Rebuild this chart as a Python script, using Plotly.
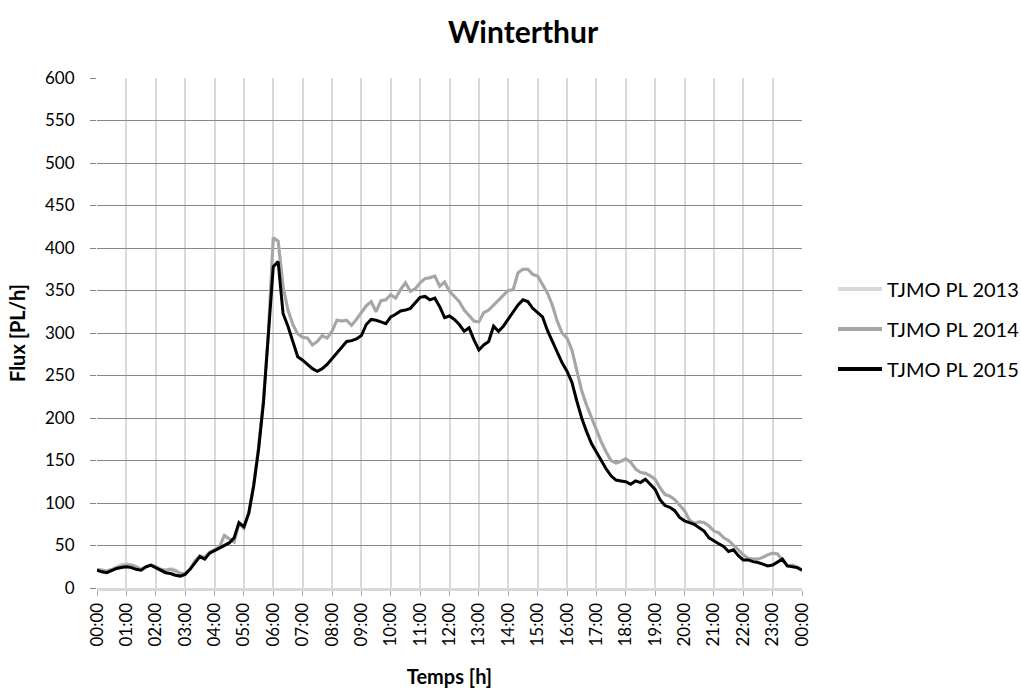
import plotly.graph_objects as go

# Time of day in hours, one sample every 10 minutes from 00:00 to 24:00
hours = [i / 6 for i in range(24 * 6 + 1)]
time_labels = [f"{(i // 6) % 24:02d}:{(i % 6) * 10:02d}" for i in range(24 * 6 + 1)]

# Hourly tick labels along the x axis
tick_labels = [
    "00:00", "01:00", "02:00", "03:00", "04:00", "05:00", "06:00", "07:00",
    "08:00", "09:00", "10:00", "11:00", "12:00", "13:00", "14:00", "15:00",
    "16:00", "17:00", "18:00", "19:00", "20:00", "21:00", "22:00", "23:00",
    "00:00",
]

# TJMO PL 2013 (one row per hour, six 10-minute values each)
tjmo_2013 = [
    22, 21, 20, 22, 25, 28,
    29, 27, 25, 22, 25, 27,
    25, 22, 21, 23, 22, 18,
    17, 22, 32, 38, 36, 42,
    45, 48, 60, 58, 54, 76,
    70, 88, 122, 166, 222, 300,
    412, 408, 355, 327, 310, 299,
    295, 294, 286, 290, 297, 294,
    302, 315, 314, 315, 309, 316,
    324, 332, 337, 325, 338, 339,
    345, 341, 351, 359, 349, 352,
    359, 364, 365, 367, 355, 360,
    349, 343, 337, 327, 320, 314,
    313, 324, 327, 333, 339, 345,
    350, 351, 371, 375, 375, 369,
    367, 357, 347, 333, 314, 300,
    294, 280, 255, 232, 215, 200,
    186, 172, 160, 150, 147, 149,
    152, 148, 140, 136, 135, 132,
    128, 118, 110, 108, 104, 98,
    91, 80, 76, 78, 77, 73,
    67, 65, 59, 56, 51, 45,
    39, 35, 34, 34, 36, 39,
    41, 40, 33, 26, 27, 25,
    21,
]

# TJMO PL 2014
tjmo_2014 = [
    22, 21, 20, 22, 24, 26,
    27, 27, 25, 22, 25, 27,
    25, 22, 21, 22, 20, 17,
    17, 22, 32, 38, 36, 42,
    45, 48, 62, 58, 54, 76,
    70, 88, 122, 166, 222, 300,
    412, 408, 355, 327, 310, 299,
    295, 294, 286, 290, 297, 294,
    302, 315, 314, 315, 309, 316,
    324, 332, 337, 325, 338, 339,
    345, 341, 351, 359, 349, 352,
    359, 364, 365, 367, 355, 360,
    349, 343, 337, 327, 320, 314,
    313, 324, 327, 333, 339, 345,
    350, 351, 371, 375, 375, 369,
    367, 357, 347, 333, 314, 300,
    294, 280, 255, 232, 215, 200,
    186, 172, 160, 150, 147, 149,
    152, 148, 140, 136, 135, 132,
    128, 118, 110, 108, 104, 98,
    91, 80, 76, 78, 77, 73,
    67, 65, 59, 56, 51, 45,
    39, 35, 34, 34, 36, 39,
    41, 40, 33, 26, 27, 25,
    21,
]

# TJMO PL 2015
tjmo_2015 = [
    21, 19, 18, 21, 23, 24,
    25, 24, 22, 21, 25, 27,
    24, 21, 18, 17, 15, 14,
    16, 22, 29, 37, 34, 41,
    44, 47, 50, 53, 59, 77,
    72, 88, 120, 163, 218, 296,
    378, 384, 323, 308, 290, 272,
    268, 263, 258, 255, 258, 263,
    270, 277, 283, 290, 291, 293,
    297, 310, 316, 315, 313, 311,
    319, 322, 326, 327, 329, 336,
    342, 343, 339, 341, 331, 318,
    320, 316, 310, 302, 306, 292,
    280, 286, 290, 308, 302, 308,
    316, 325, 333, 339, 337, 329,
    324, 319, 303, 290, 278, 265,
    255, 242, 220, 200, 184, 170,
    160, 150, 140, 132, 127, 126,
    125, 122, 126, 124, 128, 122,
    116, 104, 97, 95, 91, 83,
    79, 77, 75, 71, 67, 59,
    55, 52, 49, 43, 45, 38,
    33, 33, 31, 30, 28, 26,
    27, 31, 34, 26, 25, 24,
    21,
]

series = [
    ("TJMO PL 2013", tjmo_2013, "#D9D9D9"),
    ("TJMO PL 2014", tjmo_2014, "#A6A6A6"),
    ("TJMO PL 2015", tjmo_2015, "#000000"),
]

FONT = "Lato"
W, H = 1021, 690
M_L, M_R, M_T, M_B = 97, 219, 78, 102
PLOT_W = W - M_L - M_R
PLOT_H = H - M_T - M_B


def paper_x(px):
    return (px - M_L) / PLOT_W


def paper_y(py):
    return (H - M_B - py) / PLOT_H


fig = go.Figure()
for name, values, color in series:
    fig.add_trace(go.Scatter(
        x=hours, y=values, name=name, mode="lines",
        line=dict(color=color, width=3),
        text=time_labels,
        hovertemplate="%{text}<br>%{y} PL/h<extra>" + name + "</extra>",
    ))

# Legend on the right: a line sample followed by the series name
legend_rows = [289, 329, 369]
shapes, annotations = [], []
for (name, _, color), row in zip(series, legend_rows):
    shapes.append(dict(
        type="line", xref="paper", yref="paper",
        x0=paper_x(838), x1=paper_x(882), y0=paper_y(row), y1=paper_y(row),
        line=dict(color=color, width=4),
    ))
    annotations.append(dict(
        text=name, xref="paper", yref="paper",
        x=paper_x(885), y=paper_y(row), xanchor="left", yanchor="middle",
        showarrow=False, font=dict(family=FONT, size=20, color="#000000"),
    ))

fig.update_layout(
    width=W, height=H,
    paper_bgcolor="white", plot_bgcolor="white",
    margin=dict(l=M_L, r=M_R, t=M_T, b=M_B),
    font=dict(family=FONT, color="#000000"),
    title=dict(
        text="<b>Winterthur</b>", font=dict(family=FONT, size=30, color="#000000"),
        x=523 / W, xanchor="center", xref="container",
        y=1 - 32 / H, yanchor="middle", yref="container",
    ),
    showlegend=False,
    shapes=shapes,
    annotations=annotations,
    xaxis=dict(
        range=[0, 24],
        tickmode="array", tickvals=list(range(25)), ticktext=tick_labels,
        tickangle=-90,
        tickfont=dict(family=FONT, size=17, color="#000000"),
        showgrid=True, gridcolor="#D9D9D9", gridwidth=2,
        showline=True, linecolor="#D9D9D9", linewidth=3,
        ticks="outside", ticklen=5, tickcolor="#A6A6A6", tickwidth=1,
        zeroline=False,
        title=dict(text="<b>Temps [h]</b>", font=dict(family=FONT, size=20), standoff=25),
        automargin=False,
    ),
    yaxis=dict(
        range=[0, 600], tick0=0, dtick=50,
        tickfont=dict(family=FONT, size=17, color="#000000"),
        showgrid=True, gridcolor="#868686", gridwidth=1,
        showline=False,
        ticks="outside", ticklen=6, tickcolor="#868686", tickwidth=1,
        ticklabelstandoff=12,
        zeroline=False,
        title=dict(text="<b>Flux [PL/h]</b>", font=dict(family=FONT, size=20), standoff=14),
        automargin=False,
    ),
)

fig.write_html("out.html")
